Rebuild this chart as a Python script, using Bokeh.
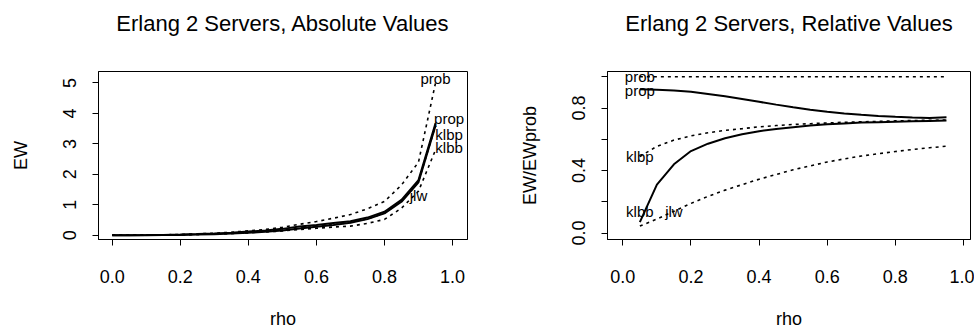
from bokeh.plotting import figure
from bokeh.models import Range1d, FixedTicker, ColumnDataSource, Title
from bokeh.layouts import row
from bokeh.core.properties import value
from bokeh.embed import file_html
from bokeh.resources import INLINE

FONT = "Liberation Sans"

# ---------------- data: absolute values ----------------
rho_abs = [0.00, 0.05, 0.10, 0.15, 0.20, 0.25, 0.30, 0.35, 0.40, 0.45,
           0.50, 0.55, 0.60, 0.65, 0.70, 0.75, 0.80, 0.85, 0.90, 0.95]
prob_abs = [0.0, 0.001, 0.006, 0.014, 0.027, 0.045, 0.07, 0.10, 0.145, 0.19,
            0.26, 0.36, 0.45, 0.56, 0.68, 0.87, 1.11, 1.65, 2.40, 5.00]
prop_abs = [0.0, 0.001, 0.005, 0.012, 0.024, 0.04, 0.06, 0.085, 0.12, 0.16,
            0.21, 0.29, 0.34, 0.40, 0.46, 0.58, 0.77, 1.16, 1.81, 3.68]
klbp_abs = [0.0, 0.0005, 0.003, 0.008, 0.016, 0.027, 0.042, 0.062, 0.09, 0.125,
            0.17, 0.23, 0.29, 0.35, 0.42, 0.54, 0.73, 1.12, 1.76, 3.60]
klbb_abs = [0.0, 0.0001, 0.001, 0.005, 0.012, 0.022, 0.036, 0.055, 0.082, 0.115,
            0.16, 0.22, 0.28, 0.34, 0.41, 0.53, 0.72, 1.10, 1.74, 3.60]
jlw_abs = [0.0, 0.0005, 0.003, 0.008, 0.016, 0.027, 0.04, 0.057, 0.08, 0.11,
           0.14, 0.19, 0.23, 0.27, 0.30, 0.39, 0.52, 0.89, 1.45, 2.80]

# ---------------- data: relative values ----------------
rho_rel = [0.05, 0.10, 0.15, 0.20, 0.25, 0.30, 0.35, 0.40, 0.45, 0.50,
           0.55, 0.60, 0.65, 0.70, 0.75, 0.80, 0.85, 0.90, 0.95]
prob_rel = [1.0, 1.0, 1.0, 1.0, 1.0, 1.0, 1.0, 1.0, 1.0, 1.0,
            1.0, 1.0, 1.0, 1.0, 1.0, 1.0, 1.0, 1.0, 1.0]
prop_rel = [0.92, 0.918, 0.912, 0.905, 0.89, 0.875, 0.858, 0.84, 0.822, 0.805,
            0.789, 0.776, 0.765, 0.757, 0.75, 0.744, 0.739, 0.737, 0.742]
klbp_rel = [0.49, 0.555, 0.595, 0.622, 0.642, 0.657, 0.668, 0.68, 0.688, 0.695,
            0.70, 0.705, 0.709, 0.712, 0.715, 0.718, 0.72, 0.722, 0.723]
klbb_rel = [0.07, 0.31, 0.44, 0.525, 0.572, 0.607, 0.632, 0.652, 0.666, 0.678,
            0.688, 0.696, 0.702, 0.707, 0.71, 0.713, 0.716, 0.718, 0.72]
jlw_rel = [0.045, 0.09, 0.14, 0.19, 0.235, 0.275, 0.31, 0.345, 0.375, 0.405,
           0.43, 0.455, 0.475, 0.493, 0.508, 0.522, 0.535, 0.546, 0.556]

# ---------------- labels ----------------
names = ["prob", "prop", "klbp", "klbb", "jlw"]
lab_abs_x = [0.95, 0.99, 0.99, 0.99, 0.90]
lab_abs_y = [5.15, 3.82, 3.31, 2.88, 1.30]
lab_rel_x = [0.05, 0.05, 0.05, 0.05, 0.15]
lab_rel_y = [1.0, 0.915, 0.49, 0.14, 0.14]

x_ticks = [0.0, 0.2, 0.4, 0.6, 0.8, 1.0]
x_tick_labels = ["0.0", "0.2", "0.4", "0.6", "0.8", "1.0"]
y_abs_ticks = [0, 1, 2, 3, 4, 5]
y_abs_labels = ["0", "1", "2", "3", "4", "5"]
y_rel_ticks = [0.0, 0.2, 0.4, 0.6, 0.8, 1.0]
y_rel_labels = ["0.0", "", "0.4", "", "0.8", ""]

titles = ["Erlang 2 Servers, Absolute Values", "Erlang 2 Servers, Relative Values"]
y_titles = ["EW", "EW/EWprob"]
x_title = "rho"

styles = {"prob": "dot", "prop": "solid", "klbp": "dot", "klbb": "solid", "jlw": "dot"}


def style_fig(p, title, ytitle, yticks, ylabels):
    # empty built-in title; spacer panel next to the frame, then the real title
    p.title.text = ""
    p.title.standoff = 0
    spacer = Title(text=" ", text_font_size="1px", standoff=33)
    p.add_layout(spacer, "above")
    t = Title(text=title, align="center", vertical_align="bottom", standoff=0,
              text_font=FONT, text_font_size="22px", text_font_style="normal",
              text_color="black")
    p.add_layout(t, "above")
    p.xgrid.visible = False
    p.ygrid.visible = False
    p.outline_line_color = "black"
    p.outline_line_width = 1
    p.background_fill_color = "white"
    p.border_fill_color = "white"
    for ax in (p.xaxis[0], p.yaxis[0]):
        ax.axis_line_color = "black"
        ax.major_tick_line_color = "black"
        ax.minor_tick_line_color = None
        ax.major_tick_in = 0
        ax.major_tick_out = 6
        ax.major_label_text_font = FONT
        ax.major_label_text_font_size = "18px"
        ax.major_label_text_color = "black"
        ax.axis_label_text_font = FONT
        ax.axis_label_text_font_size = "18px"
        ax.axis_label_text_font_style = "normal"
        ax.axis_label_text_color = "black"
    p.xaxis.ticker = FixedTicker(ticks=x_ticks)
    p.xaxis.major_label_overrides = dict(zip(x_ticks, x_tick_labels))
    p.xaxis.axis_label = x_title
    p.xaxis.major_label_standoff = 24
    p.xaxis.axis_label_standoff = 23
    p.yaxis.ticker = FixedTicker(ticks=yticks)
    p.yaxis.major_label_overrides = dict(zip(yticks, ylabels))
    p.yaxis.major_label_orientation = "parallel"
    p.yaxis.axis_label = ytitle
    p.yaxis.major_label_standoff = 16
    p.yaxis.axis_label_standoff = 30


def draw(p, x, series, lx, ly):
    for name, ys in series:
        if styles[name] == "solid":
            p.line(x, ys, line_color="black", line_width=2)
        else:
            p.line(x, ys, line_color="black", line_width=1.6, line_dash="3 4")
    src = ColumnDataSource(dict(x=lx, y=ly, t=names))
    p.text("x", "y", text="t", source=src, text_font=value(FONT),
           text_font_size=value("15px"), text_align="center",
           text_baseline="middle", text_color="black")


p1 = figure(width=487, height=331, x_range=Range1d(-0.0403, 1.044),
            y_range=Range1d(-0.139, 5.377), output_backend="svg",
            toolbar_location=None, min_border_left=98, min_border_right=20,
            min_border_top=71, min_border_bottom=89)
style_fig(p1, titles[0], y_titles[0], y_abs_ticks, y_abs_labels)
draw(p1, rho_abs, [("prob", prob_abs), ("jlw", jlw_abs), ("klbp", klbp_abs),
                   ("klbb", klbb_abs), ("prop", prop_abs)],
     lab_abs_x, lab_abs_y)

p2 = figure(width=487, height=331, x_range=Range1d(-0.045, 1.0205),
            y_range=Range1d(-0.041, 1.034), output_backend="svg",
            toolbar_location=None, min_border_left=120, min_border_right=4,
            min_border_top=70, min_border_bottom=89)
style_fig(p2, titles[1], y_titles[1], y_rel_ticks, y_rel_labels)
draw(p2, rho_rel, [("prob", prob_rel), ("jlw", jlw_rel), ("klbp", klbp_rel),
                   ("klbb", klbb_rel), ("prop", prop_rel)],
     lab_rel_x, lab_rel_y)

layout = row(p1, p2, spacing=0)
open("out.html", "w").write(file_html(layout, INLINE))
